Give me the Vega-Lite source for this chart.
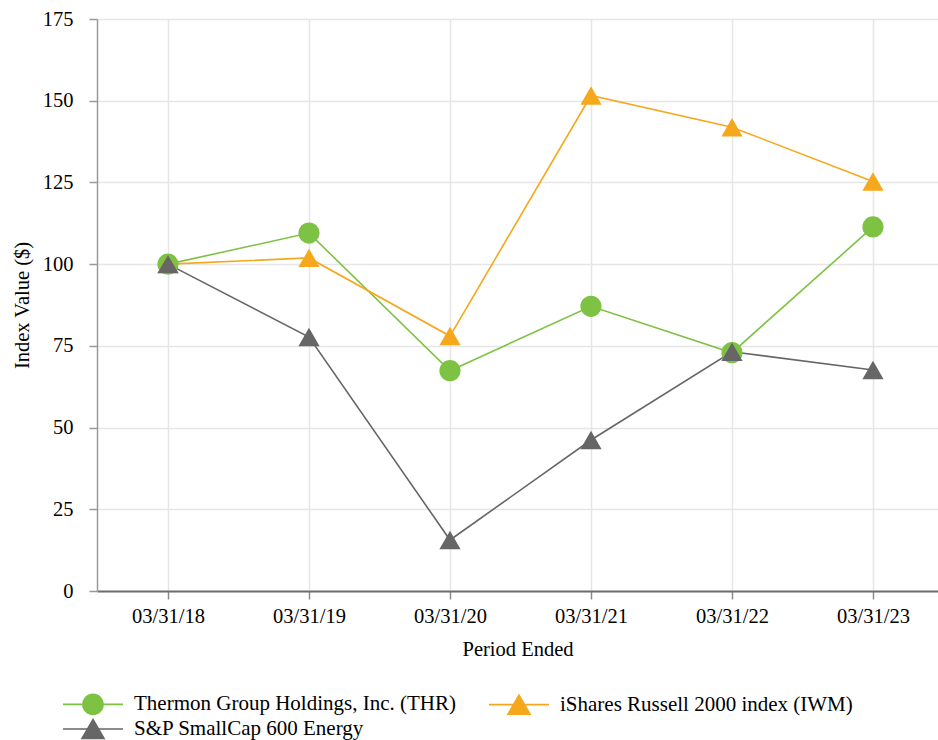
{
  "$schema": "https://vega.github.io/schema/vega-lite/v6.json",
  "width": 841,
  "height": 572,
  "autosize": {"type": "none"},
  "padding": {"left": 97, "top": 19, "right": 0, "bottom": 149},
  "background": "white",
  "config": {
    "font": "Liberation Serif",
    "view": {"stroke": null},
    "axis": {"labelFont": "Liberation Serif", "titleFont": "Liberation Serif", "labelFontSize": 20.5, "titleFontSize": 20.5, "labelColor": "#000", "titleColor": "#000", "titleFontWeight": "normal", "gridColor": "#e6e6e6", "gridWidth": 1.5},
    "legend": {"labelFont": "Liberation Serif", "labelFontSize": 21, "labelColor": "#000"}
  },
  "data": {"values": [
    {"date": "03/31/18", "series": "Thermon Group Holdings, Inc. (THR)", "value": 100},
    {"date": "03/31/19", "series": "Thermon Group Holdings, Inc. (THR)", "value": 109.5},
    {"date": "03/31/20", "series": "Thermon Group Holdings, Inc. (THR)", "value": 67.4},
    {"date": "03/31/21", "series": "Thermon Group Holdings, Inc. (THR)", "value": 87.1},
    {"date": "03/31/22", "series": "Thermon Group Holdings, Inc. (THR)", "value": 72.9},
    {"date": "03/31/23", "series": "Thermon Group Holdings, Inc. (THR)", "value": 111.4},
    {"date": "03/31/18", "series": "iShares Russell 2000 index (IWM)", "value": 100},
    {"date": "03/31/19", "series": "iShares Russell 2000 index (IWM)", "value": 101.9},
    {"date": "03/31/20", "series": "iShares Russell 2000 index (IWM)", "value": 78.0},
    {"date": "03/31/21", "series": "iShares Russell 2000 index (IWM)", "value": 151.6},
    {"date": "03/31/22", "series": "iShares Russell 2000 index (IWM)", "value": 141.9},
    {"date": "03/31/23", "series": "iShares Russell 2000 index (IWM)", "value": 125.3},
    {"date": "03/31/18", "series": "S&P SmallCap 600 Energy", "value": 100},
    {"date": "03/31/19", "series": "S&P SmallCap 600 Energy", "value": 77.7},
    {"date": "03/31/20", "series": "S&P SmallCap 600 Energy", "value": 15.6},
    {"date": "03/31/21", "series": "S&P SmallCap 600 Energy", "value": 46.2},
    {"date": "03/31/22", "series": "S&P SmallCap 600 Energy", "value": 73.2},
    {"date": "03/31/23", "series": "S&P SmallCap 600 Energy", "value": 67.6}
  ]},
  "encoding": {
    "x": {"field": "date", "type": "ordinal", "scale": {"type": "point", "padding": 0.48227, "align": 0.522},
      "axis": {"title": "Period Ended", "labelAngle": 0, "grid": true, "domainColor": "#6e6e6e", "domainWidth": 2, "tickColor": "#8c8c8c", "tickSize": 8, "tickWidth": 1.5, "labelPadding": 7, "titlePadding": 13}},
    "y": {"field": "value", "type": "quantitative", "scale": {"domain": [0, 175]},
      "axis": {"title": "Index Value ($)", "values": [0, 25, 50, 75, 100, 125, 150, 175], "grid": true, "domainColor": "#9a9a9a", "domainWidth": 1.5, "tickColor": "#9a9a9a", "tickSize": 8, "tickWidth": 1.5, "labelPadding": 16, "titlePadding": 10}},
    "color": {"field": "series", "type": "nominal", "title": null,
      "scale": {"domain": ["Thermon Group Holdings, Inc. (THR)", "iShares Russell 2000 index (IWM)", "S&P SmallCap 600 Energy"], "range": ["#7dc243", "#f6a81d", "#666666"]}}
  },
  "layer": [
    {"mark": {"type": "line", "strokeWidth": 1.6}},
    {"transform": [{"filter": "datum.series === 'Thermon Group Holdings, Inc. (THR)'"}],
     "mark": {"type": "point", "shape": "circle", "filled": true, "opacity": 1, "size": 450}},
    {"transform": [{"filter": "datum.series !== 'Thermon Group Holdings, Inc. (THR)'"}],
     "mark": {"type": "point", "shape": "triangle-up", "filled": true, "opacity": 1, "size": 450}},
    {"mark": {"type": "point", "filled": true, "opacity": 1, "size": 400, "clip": true, "strokeWidth": 1.6},
     "encoding": {
       "y": {"datum": -60},
       "color": {"field": "series", "type": "nominal", "title": null,
         "legend": {"orient": "none", "direction": "horizontal", "legendX": -35, "legendY": 674, "columns": 2, "padding": 0, "symbolSize": 400, "symbolOffset": 20, "labelOffset": 30, "columnPadding": 29, "rowPadding": -2, "symbolStrokeWidth": 1.6, "symbolOpacity": 1, "labelLimit": 0, "title": null}},
       "stroke": {"field": "series", "type": "nominal", "title": null,
         "scale": {"domain": ["Thermon Group Holdings, Inc. (THR)", "iShares Russell 2000 index (IWM)", "S&P SmallCap 600 Energy"], "range": ["#7dc243", "#f6a81d", "#666666"]}},
       "shape": {"field": "series", "type": "nominal", "title": null,
         "scale": {"domain": ["Thermon Group Holdings, Inc. (THR)", "iShares Russell 2000 index (IWM)", "S&P SmallCap 600 Energy"],
           "range": ["M-3,0H3M-1,0A1,1 0 1,0 1,0A1,1 0 1,0 -1,0Z", "M-3,0H3M0,-0.95L1.1,0.95L-1.1,0.95Z", "M-3,0H3M0,-0.95L1.1,0.95L-1.1,0.95Z"]}}
     }}
  ]
}
